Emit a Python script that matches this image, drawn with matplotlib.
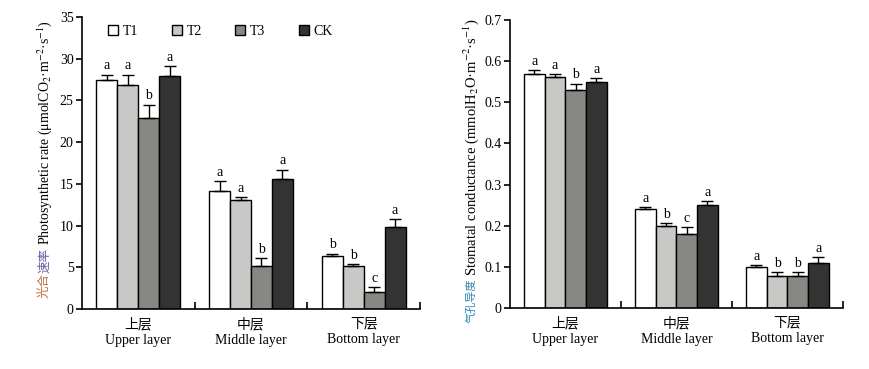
import numpy as np
import matplotlib
matplotlib.use("Agg")
import matplotlib.pyplot as plt

plt.rcParams['font.family'] = ['Liberation Serif', 'Noto Sans CJK SC']
plt.rcParams['mathtext.fontset'] = 'stix'

groups_cn = ["上层", "中层", "下层"]
groups_en = ["Upper layer", "Middle layer", "Bottom layer"]
series = ["T1", "T2", "T3", "CK"]
colors = ["#ffffff", "#c8c8c6", "#878783", "#333333"]

# Photosynthetic rate: rows = series, cols = groups
pn_vals = [[27.5, 14.2, 6.3],
           [26.9, 13.1, 5.2],
           [22.9, 5.1, 2.0],
           [27.9, 15.6, 9.8]]
pn_err = [[0.6, 1.1, 0.3],
          [1.2, 0.3, 0.15],
          [1.6, 1.0, 0.6],
          [1.2, 1.1, 0.95]]
pn_letters = [["a", "a", "b"],
              ["a", "a", "b"],
              ["b", "b", "c"],
              ["a", "a", "a"]]

gs_vals = [[0.568, 0.240, 0.099],
           [0.561, 0.199, 0.077],
           [0.529, 0.179, 0.077],
           [0.549, 0.250, 0.109]]
gs_err = [[0.010, 0.005, 0.005],
          [0.007, 0.007, 0.010],
          [0.016, 0.017, 0.010],
          [0.009, 0.010, 0.014]]
gs_letters = [["a", "a", "a"],
              ["a", "b", "b"],
              ["b", "c", "b"],
              ["a", "a", "a"]]

fig = plt.figure(figsize=(8.7, 3.69), dpi=100)
ax1 = fig.add_axes([82/870, 60/369, 338/870, 292/369])
ax2 = fig.add_axes([509.7/870, 61/369, 333.3/870, 288/369])

width = 0.186
FS = 10


def draw(ax, vals, errs, letters, ymax, ystep, letter_off, fmt):
    x = np.arange(len(groups_cn))
    for i, s in enumerate(series):
        xs = x + (i - 1.5) * width
        v = np.array(vals[i])
        e = np.array(errs[i])
        ax.bar(xs, v, width, color=colors[i], edgecolor='black', linewidth=1.0,
               label=s, zorder=2)
        ax.errorbar(xs, v, yerr=[np.zeros_like(e), e], fmt='none', ecolor='black',
                    elinewidth=1.0, capsize=4, capthick=1.0, zorder=3)
        for xx, vv, ee, lt in zip(xs, v, e, letters[i]):
            ax.text(xx, vv + ee + letter_off, lt, ha='center', va='bottom', fontsize=FS)
    ax.set_xlim(-0.5, 2.5)
    ax.set_ylim(0, ymax)
    ticks = np.arange(0, ymax + ystep / 2, ystep)
    ax.set_yticks(ticks)
    ax.set_yticklabels([fmt(t) for t in ticks], fontsize=FS)
    ax.set_xticks(x)
    ax.set_xticklabels([c + "\n" + e for c, e in zip(groups_cn, groups_en)],
                       fontsize=FS, linespacing=1.3)
    ax.tick_params(axis='x', which='major', length=0, pad=6)
    ax.set_xticks([0.5, 1.5, 2.5], minor=True)
    ax.tick_params(axis='x', which='minor', direction='in', length=5, width=1.2)
    ax.tick_params(axis='y', direction='out', length=4, width=1.2, pad=2)
    for sp in ['top', 'right']:
        ax.spines[sp].set_visible(False)
    for sp in ['left', 'bottom']:
        ax.spines[sp].set_linewidth(1.2)


draw(ax1, pn_vals, pn_err, pn_letters, 35, 5, 0.3, lambda t: f"{t:g}")
draw(ax2, gs_vals, gs_err, gs_letters, 0.7, 0.1, 0.006, lambda t: f"{t:.1f}" if t else "0")

ax1.legend(loc='upper left', bbox_to_anchor=((108 - 82) / 338, (309 - 25) / 292), ncol=4,
           frameon=False, fontsize=FS, handlelength=0.72, handleheight=0.72,
           handletextpad=0.35, columnspacing=2.4, borderpad=0, borderaxespad=0)


def chained_label(x_px, y_bottom_px, parts):
    """parts: list of (text, color, fontsize, gap_before_px)"""
    renderer = fig.canvas.get_renderer()
    y = 369 - y_bottom_px
    for txt, col, fs, gap in parts:
        y += gap
        t = fig.text(x_px / 870, y / 369, txt, color=col, rotation=90,
                     ha='center', va='bottom', fontsize=fs)
        bb = t.get_window_extent(renderer)
        y = bb.y1


chained_label(45, 298, [("光合", "#c0703a", 9, 0),
                        ("速率", "#6a5aa0", 9, 0),
                        ("Photosynthetic rate (μmolCO$_2$·m$^{-2}$·s$^{-1}$)", "black", 10, 3)])
chained_label(471, 323, [("气孔导度", "#2a88b0", 8, 0),
                         ("Stomatal conductance (mmolH$_2$O·m$^{-2}$·s$^{-1}$)", "black", 10.5, 3)])

fig.savefig("out.png", dpi=100)
